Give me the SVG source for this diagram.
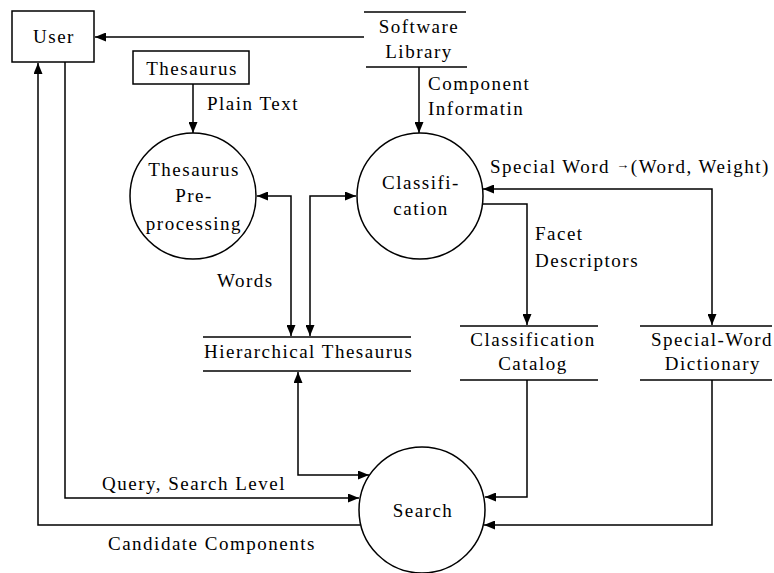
<svg xmlns="http://www.w3.org/2000/svg" width="774" height="573" viewBox="0 0 774 573">
  <style>
    text { font-family: "Liberation Serif", "Times New Roman", serif; font-size: 19px; letter-spacing: 1.5px; fill: #000; }
    .c { text-anchor: middle; }
    .shape { fill: #fff; stroke: #000; stroke-width: 1.5; }
    .store { stroke: #000; stroke-width: 1.5; fill: none; }
    .flow { fill: none; stroke: #000; stroke-width: 1.5; }
    .one { marker-end: url(#arrow); }
    .two { marker-start: url(#arrow); marker-end: url(#arrow); }
  </style>
  <defs>
    <marker id="arrow" markerUnits="userSpaceOnUse" markerWidth="11" markerHeight="9" refX="11" refY="4.5" orient="auto-start-reverse">
      <path d="M0,0 L11,4.5 L0,9 z" fill="#000"/>
    </marker>
  </defs>
  <rect width="774" height="573" fill="#fff"/>

  <!-- data flows -->
  <g id="connectors">
    <path class="flow one" d="M364,37 H95"/>
    <path class="flow one" d="M193,84 V133"/>
    <path class="flow one" d="M419,67 V133"/>
    <path class="flow two" d="M483,189 H712 V325"/>
    <path class="flow one" d="M483,204 H527 V325"/>
    <path class="flow two" d="M257,196 H291 V336"/>
    <path class="flow two" d="M310,336 V196 H356"/>
    <path class="flow two" d="M298,372 V475 H369"/>
    <path class="flow one" d="M65,62 V498 H359"/>
    <path class="flow one" d="M360,525 H38 V63"/>
    <path class="flow one" d="M527,380 V497 H485"/>
    <path class="flow one" d="M712,380 V525 H484"/>
  </g>

  <!-- flow labels -->
  <g id="labels">
    <text x="207" y="110">Plain Text</text>
    <text x="428" y="90">Component</text>
    <text x="428" y="115">Informatin</text>
    <text x="490" y="173">Special Word <tspan font-size="13" dy="-4">→</tspan><tspan dy="4">(Word, Weight)</tspan></text>
    <text x="535" y="240">Facet</text>
    <text x="535" y="267">Descriptors</text>
    <text x="217" y="287">Words</text>
    <text x="102" y="490">Query, Search Level</text>
    <text x="108" y="550">Candidate Components</text>
  </g>

  <!-- external entities -->
  <g id="user">
    <rect class="shape" x="12" y="11" width="82" height="51"/>
    <text class="c" x="54" y="43">User</text>
  </g>
  <g id="thesaurus">
    <rect class="shape" x="133" y="51" width="116" height="33"/>
    <text class="c" x="192" y="75">Thesaurus</text>
  </g>

  <!-- processes -->
  <g id="thesaurus-preprocessing">
    <circle class="shape" cx="193" cy="196" r="63"/>
    <text class="c" x="194" y="176">Thesaurus</text>
    <text class="c" x="194" y="202">Pre-</text>
    <text class="c" x="194" y="230">processing</text>
  </g>
  <g id="classification">
    <circle class="shape" cx="420" cy="196" r="63"/>
    <text class="c" x="421" y="189">Classifi-</text>
    <text class="c" x="421" y="215">cation</text>
  </g>
  <g id="search">
    <circle class="shape" cx="422" cy="510" r="63"/>
    <text class="c" x="423" y="517">Search</text>
  </g>

  <!-- data stores -->
  <g id="software-library">
    <line class="store" x1="364" y1="12" x2="466" y2="12"/>
    <line class="store" x1="366" y1="67" x2="467" y2="67"/>
    <text class="c" x="419" y="33">Software</text>
    <text class="c" x="419" y="58">Library</text>
  </g>
  <g id="hierarchical-thesaurus">
    <line class="store" x1="203" y1="337" x2="411" y2="337"/>
    <line class="store" x1="203" y1="371" x2="411" y2="371"/>
    <text x="204" y="358">Hierarchical Thesaurus</text>
  </g>
  <g id="classification-catalog">
    <line class="store" x1="460" y1="326" x2="598" y2="326"/>
    <line class="store" x1="460" y1="380" x2="598" y2="380"/>
    <text class="c" x="533" y="346">Classification</text>
    <text class="c" x="533" y="370">Catalog</text>
  </g>
  <g id="special-word-dictionary">
    <line class="store" x1="640" y1="326" x2="772" y2="326"/>
    <line class="store" x1="640" y1="380" x2="772" y2="380"/>
    <text class="c" x="712" y="346">Special-Word</text>
    <text class="c" x="713" y="370">Dictionary</text>
  </g>
</svg>
